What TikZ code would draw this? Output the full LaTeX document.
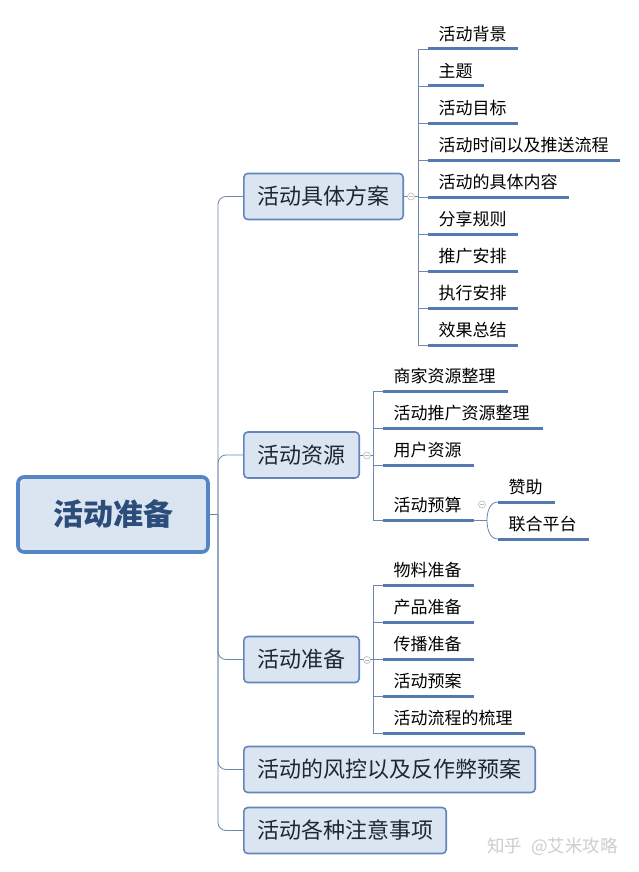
\documentclass[tikz,border=0pt]{standalone}
\usepackage{fontspec}
\newfontfamily\cjk{Noto Sans CJK SC}

\definecolor{boxfill}{RGB}{219,229,241}
\definecolor{boxline}{RGB}{98,134,186}
\definecolor{rootline}{RGB}{84,133,197}
\definecolor{roottext}{RGB}{44,76,122}
\definecolor{topictext}{RGB}{30,38,52}
\definecolor{barcol}{RGB}{83,123,178}
\definecolor{wirecol}{RGB}{110,135,170}
\definecolor{foldcol}{RGB}{185,185,185}
\definecolor{marktext}{RGB}{205,205,205}

\tikzset{
  rootbox/.style={draw=rootline, line width=3.6pt, fill=boxfill, rounded corners=6pt,
    minimum width=190pt, minimum height=75pt, inner sep=0pt, text=roottext,
    font=\cjk\bfseries\fontsize{30}{30}\selectfont},
  topicbox/.style={draw=boxline, line width=1.6pt, fill=boxfill, rounded corners=4pt,
    minimum width=#1, minimum height=46pt, inner sep=0pt, text=topictext,
    font=\cjk\fontsize{22}{22}\selectfont},
  leafbar/.style={anchor=west, fill=barcol, minimum width=#1, minimum height=3pt, inner sep=0pt},
  leaf/.style={anchor=base west, inner sep=0pt, xshift=10.5pt, yshift=7pt,
    font=\cjk\fontsize{17}{17}\selectfont},
  wire/.style={draw=wirecol, line width=0.8pt},
  fold/.style={circle, draw=foldcol, fill=white, line width=0.6pt, minimum size=7pt, inner sep=0pt,
    path picture={\draw[foldcol, line width=0.6pt]
      ([xshift=-2pt]path picture bounding box.center) -- ([xshift=2pt]path picture bounding box.center);}},
}

\begin{document}
\begin{tikzpicture}[x=1pt, y=-1pt]
\useasboundingbox[fill=white] (0,0) rectangle (638,872);

% root and main topics
\node[rootbox] (root) at (113,514.5) {活动准备};
\node[topicbox=159.4pt] (b1) at (323.5,196.5) {活动具体方案};
\node[topicbox=115.4pt] (b2) at (301.5,455) {活动资源};
\node[topicbox=115.4pt] (b3) at (301.5,659.5) {活动准备};
\node[topicbox=291.4pt] (b4) at (389.5,769.5) {活动的风控以及反作弊预案};
\node[topicbox=202.4pt] (b5) at (345,830.5) {活动各种注意事项};

\coordinate (trunk) at (218,514.5);
\draw[wire] (root.east) -- (trunk);
\draw[wire, rounded corners=8pt] (b1.west) -| (trunk) |- (b5.west);
\draw[wire, rounded corners=8pt] (trunk) |- (b2.west);
\draw[wire, rounded corners=8pt] (trunk) |- (b3.west);
\draw[wire, rounded corners=8pt] (trunk) |- (b4.west);

% 活动具体方案
\node[leafbar=90pt, label={[leaf]north west:活动背景}] (p1) at (428,49) {};
\node[leafbar=56pt, label={[leaf]north west:主题}] (p2) at (428,86) {};
\node[leafbar=90pt, label={[leaf]north west:活动目标}] (p3) at (428,123.5) {};
\node[leafbar=192pt, label={[leaf]north west:活动时间以及推送流程}] (p4) at (428,160.5) {};
\node[leafbar=141pt, label={[leaf]north west:活动的具体内容}] (p5) at (428,197.5) {};
\node[leafbar=90pt, label={[leaf]north west:分享规则}] (p6) at (428,234) {};
\node[leafbar=90pt, label={[leaf]north west:推广安排}] (p7) at (428,271) {};
\node[leafbar=90pt, label={[leaf]north west:执行安排}] (p8) at (428,308) {};
\node[leafbar=90pt, label={[leaf]north west:效果总结}] (p9) at (428,345) {};

\coordinate (bus1) at (418,196.5);
\draw[wire] (bus1 |- p1.west) -- (bus1 |- p9.west);
\foreach \i in {1,...,9} \draw[wire] (bus1 |- p\i.west) -- (p\i.west);
\draw[wire] (b1.east) -- (bus1);
\node[fold] (f1) at (411,196.5) {};

% 活动资源
\node[leafbar=125pt, label={[leaf]north west:商家资源整理}] (r1) at (383,391) {};
\node[leafbar=160pt, label={[leaf]north west:活动推广资源整理}] (r2) at (383,428) {};
\node[leafbar=91pt, label={[leaf]north west:用户资源}] (r3) at (383,465) {};
\node[leafbar=91pt, label={[leaf]north west:活动预算}] (r4) at (383,520) {};

\coordinate (bus2) at (373,455);
\draw[wire] (bus2 |- r1.west) -- (bus2 |- r4.west);
\foreach \i in {1,...,4} \draw[wire] (bus2 |- r\i.west) -- (r\i.west);
\draw[wire] (b2.east) -- (bus2);
\node[fold] (f2) at (367,455.5) {};

\node[leafbar=57pt, label={[leaf]north west:赞助}] (s1) at (498,502) {};
\node[leafbar=91pt, label={[leaf]north west:联合平台}] (s2) at (498,539) {};
\coordinate (fork) at (487,520);
\draw[wire] (r4.east) -- (fork);
\draw[wire] (fork) to[out=-90, in=180] (s2.west);
\draw[wire] (fork) to[out=90, in=180] (s1.west);
\node[fold] (f3) at (482,504.5) {};

% 活动准备
\node[leafbar=91pt, label={[leaf]north west:物料准备}] (q1) at (383,585) {};
\node[leafbar=91pt, label={[leaf]north west:产品准备}] (q2) at (383,622) {};
\node[leafbar=91pt, label={[leaf]north west:传播准备}] (q3) at (383,659) {};
\node[leafbar=91pt, label={[leaf]north west:活动预案}] (q4) at (383,696) {};
\node[leafbar=142pt, label={[leaf]north west:活动流程的梳理}] (q5) at (383,733) {};

\coordinate (bus3) at (373,659.5);
\draw[wire] (bus3 |- q1.west) -- (bus3 |- q5.west);
\foreach \i in {1,...,5} \draw[wire] (bus3 |- q\i.west) -- (q\i.west);
\draw[wire] (b3.east) -- (bus3);
\node[fold] (f4) at (367,660) {};

\node[anchor=base west, inner sep=0pt, text=marktext, font=\cjk\fontsize{17.5}{17.5}\selectfont]
  (mark) at (487,852) {知乎\hspace{9pt}@艾米攻略};
\end{tikzpicture}
\end{document}
